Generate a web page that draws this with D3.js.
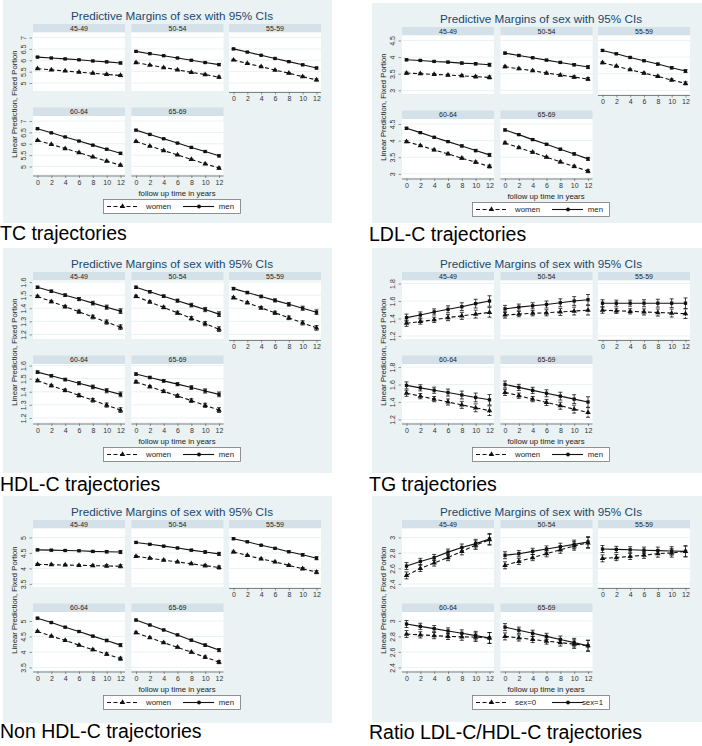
<!DOCTYPE html>
<html><head><meta charset="utf-8">
<script src="https://cdn.jsdelivr.net/npm/d3@7"></script>
<style>
body{margin:0;background:#fff;}
svg{display:block;font-family:"Liberation Sans",Arial,Helvetica,sans-serif;}
</style>
</head><body>
<svg id="chart" width="702" height="746"></svg>
<script>
// ---------- DATA ----------
const ageGroups = ["45-49", "50-54", "55-59", "60-64", "65-69"];
const years = [0, 2, 4, 6, 8, 10, 12];
const chartTitle = "Predictive Margins of sex with 95% CIs";
const xAxisTitle = "follow up time in years";
const yAxisTitle = "Linear Prediction, Fixed Portion";
const sexLabels = ["women", "men"];
const sexCodeLabels = ["sex=0", "sex=1"];
const captions = ["TC trajectories", "LDL-C trajectories", "HDL-C trajectories",
                  "TG trajectories", "Non HDL-C trajectories", "Ratio LDL-C/HDL-C trajectories"];

// TC
const tcTicks = [5, 5.5, 6, 6.5, 7];
const tcRange = [4.65, 7.22];
const tcWomen = [
  [5.63, 5.58, 5.53, 5.48, 5.43, 5.38, 5.33],
  [5.90, 5.79, 5.68, 5.58, 5.47, 5.37, 5.26],
  [6.01, 5.86, 5.72, 5.57, 5.43, 5.28, 5.14],
  [6.15, 5.97, 5.79, 5.61, 5.42, 5.24, 5.06],
  [6.10, 5.90, 5.70, 5.51, 5.31, 5.12, 4.93]];
const tcMen = [
  [6.14, 6.10, 6.06, 6.02, 5.97, 5.93, 5.88],
  [6.39, 6.29, 6.20, 6.10, 6.00, 5.90, 5.81],
  [6.50, 6.36, 6.22, 6.08, 5.94, 5.80, 5.66],
  [6.66, 6.48, 6.30, 6.12, 5.94, 5.76, 5.58],
  [6.60, 6.41, 6.22, 6.03, 5.84, 5.66, 5.47]];
const tcCI = [0.03, 0.025, 0.025, 0.025, 0.03, 0.035, 0.045];

// LDL-C
const ldlTicks = [3, 3.5, 4, 4.5];
const ldlRange = [2.89, 4.65];
const ldlWomen = [
  [3.52, 3.50, 3.48, 3.46, 3.44, 3.41, 3.39],
  [3.71, 3.65, 3.59, 3.52, 3.46, 3.40, 3.34],
  [3.83, 3.73, 3.62, 3.52, 3.42, 3.31, 3.21],
  [3.97, 3.85, 3.72, 3.60, 3.47, 3.35, 3.22],
  [3.93, 3.79, 3.65, 3.50, 3.36, 3.22, 3.08]];
const ldlMen = [
  [3.92, 3.90, 3.87, 3.85, 3.82, 3.80, 3.77],
  [4.12, 4.05, 3.98, 3.91, 3.84, 3.77, 3.70],
  [4.20, 4.10, 3.99, 3.89, 3.79, 3.68, 3.58],
  [4.37, 4.24, 4.10, 3.97, 3.84, 3.70, 3.57],
  [4.32, 4.18, 4.03, 3.89, 3.74, 3.60, 3.45]];
const ldlCI = [0.03, 0.025, 0.025, 0.025, 0.03, 0.035, 0.045];

// HDL-C
const hdlTicks = [1.2, 1.3, 1.4, 1.5, 1.6];
const hdlRange = [1.165, 1.612];
const hdlWomen = [
  [1.490, 1.451, 1.412, 1.373, 1.333, 1.294, 1.255],
  [1.490, 1.448, 1.406, 1.365, 1.323, 1.282, 1.240],
  [1.480, 1.442, 1.403, 1.365, 1.327, 1.288, 1.250],
  [1.485, 1.447, 1.410, 1.372, 1.335, 1.298, 1.260],
  [1.475, 1.439, 1.403, 1.368, 1.332, 1.296, 1.260]];
const hdlMen = [
  [1.560, 1.530, 1.500, 1.470, 1.439, 1.408, 1.378],
  [1.560, 1.526, 1.492, 1.458, 1.424, 1.390, 1.355],
  [1.550, 1.520, 1.490, 1.460, 1.430, 1.400, 1.370],
  [1.550, 1.522, 1.493, 1.465, 1.437, 1.408, 1.380],
  [1.535, 1.509, 1.483, 1.458, 1.432, 1.406, 1.380]];
const hdlCI = [0.009, 0.009, 0.01, 0.012, 0.014, 0.016, 0.018];

// TG
const tgTicks = [1.2, 1.4, 1.6, 1.8];
const tgRange = [1.165, 1.835];
const tgWomen = [
  [1.345, 1.365, 1.385, 1.410, 1.430, 1.450, 1.470],
  [1.440, 1.450, 1.460, 1.465, 1.475, 1.485, 1.495],
  [1.495, 1.488, 1.482, 1.475, 1.468, 1.462, 1.455],
  [1.500, 1.467, 1.433, 1.400, 1.367, 1.333, 1.300],
  [1.510, 1.472, 1.433, 1.395, 1.357, 1.318, 1.280]];
const tgMen = [
  [1.410, 1.440, 1.475, 1.505, 1.535, 1.570, 1.600],
  [1.510, 1.530, 1.545, 1.560, 1.580, 1.600, 1.615],
  [1.575, 1.575, 1.575, 1.575, 1.575, 1.575, 1.575],
  [1.590, 1.562, 1.535, 1.508, 1.480, 1.452, 1.425],
  [1.600, 1.567, 1.533, 1.500, 1.467, 1.433, 1.400]];
const tgCIWomen = [0.035, 0.03, 0.03, 0.035, 0.04, 0.045, 0.055];
const tgCIMen = [0.04, 0.035, 0.035, 0.04, 0.045, 0.05, 0.06];

// Non HDL-C
const nonTicks = [3.5, 4, 4.5, 5];
const nonRange = [3.4, 5.29];
const nonWomen = [
  [4.13, 4.12, 4.11, 4.10, 4.09, 4.08, 4.07],
  [4.39, 4.33, 4.27, 4.21, 4.15, 4.09, 4.03],
  [4.53, 4.42, 4.31, 4.21, 4.10, 3.99, 3.88],
  [4.66, 4.51, 4.37, 4.22, 4.07, 3.93, 3.78],
  [4.62, 4.46, 4.30, 4.15, 3.99, 3.83, 3.67]];
const nonMen = [
  [4.60, 4.59, 4.58, 4.57, 4.55, 4.54, 4.53],
  [4.84, 4.78, 4.72, 4.66, 4.59, 4.53, 4.47],
  [4.96, 4.86, 4.75, 4.65, 4.54, 4.44, 4.33],
  [5.09, 4.95, 4.80, 4.66, 4.51, 4.37, 4.22],
  [5.03, 4.87, 4.71, 4.55, 4.38, 4.22, 4.06]];
const nonCI = [0.03, 0.025, 0.025, 0.025, 0.03, 0.04, 0.05];

// Ratio LDL-C/HDL-C
const ratioTicks = [2.4, 2.6, 2.8, 3];
const ratioRange = [2.36, 3.115];
const ratioSex0 = [
  [2.51, 2.60, 2.67, 2.74, 2.82, 2.90, 2.97],
  [2.64, 2.69, 2.74, 2.79, 2.84, 2.89, 2.93],
  [2.73, 2.74, 2.755, 2.77, 2.79, 2.80, 2.82],
  [2.83, 2.82, 2.81, 2.80, 2.795, 2.79, 2.78],
  [2.80, 2.78, 2.76, 2.74, 2.72, 2.70, 2.68]];
const ratioSex1 = [
  [2.63, 2.69, 2.74, 2.81, 2.87, 2.92, 2.98],
  [2.77, 2.79, 2.82, 2.85, 2.88, 2.91, 2.94],
  [2.85, 2.845, 2.84, 2.835, 2.83, 2.825, 2.82],
  [2.96, 2.93, 2.90, 2.87, 2.84, 2.81, 2.78],
  [2.92, 2.88, 2.84, 2.80, 2.76, 2.72, 2.68]];
const ratioCI = [0.045, 0.04, 0.04, 0.04, 0.045, 0.055, 0.07];

// ---------- CHART DEFINITIONS ----------
const charts = [
  {caption: captions[0], ticks: tcTicks, range: tcRange, s0: tcWomen, s1: tcMen, ci0: tcCI, ci1: tcCI, leg: sexLabels},
  {caption: captions[1], ticks: ldlTicks, range: ldlRange, s0: ldlWomen, s1: ldlMen, ci0: ldlCI, ci1: ldlCI, leg: sexLabels},
  {caption: captions[2], ticks: hdlTicks, range: hdlRange, s0: hdlWomen, s1: hdlMen, ci0: hdlCI, ci1: hdlCI, leg: sexLabels},
  {caption: captions[3], ticks: tgTicks, range: tgRange, s0: tgWomen, s1: tgMen, ci0: tgCIWomen, ci1: tgCIMen, leg: sexLabels},
  {caption: captions[4], ticks: nonTicks, range: nonRange, s0: nonWomen, s1: nonMen, ci0: nonCI, ci1: nonCI, leg: sexLabels},
  {caption: captions[5], ticks: ratioTicks, range: ratioRange, s0: ratioSex0, s1: ratioSex1, ci0: ratioCI, ci1: ratioCI, leg: sexCodeLabels}
];

// ---------- LAYOUT ----------
const boxes = [
  {x: 3, y: 0, w: 329, h: 223, cx: 0, cy: 240},
  {x: 372, y: 3, w: 330, h: 220, cx: 369, cy: 241},
  {x: 3, y: 248, w: 329, h: 225, cx: 0, cy: 491},
  {x: 372, y: 248, w: 330, h: 225, cx: 369, cy: 491},
  {x: 3, y: 496, w: 329, h: 227, cx: 0, cy: 738},
  {x: 372, y: 496, w: 330, h: 226, cx: 369, cy: 739}
];
const colLeft = [30, 128.5, 226];
const plotW = 92;
const plotH = 58.5;
const rowTop = [32.5, 116];
const stripH = 8.5;
const BG = "#EAF2F3", STRIP = "#D5E1E8", NAVY = "#1A476F", INK = "#222";

const svg = d3.select("#chart");

function drawPanel(chart, box) {
  const g = svg.append("g").attr("transform", `translate(${box.x},${box.y})`);
  g.append("rect").attr("width", box.w).attr("height", box.h).attr("fill", BG);
  g.append("text").attr("x", 169).attr("y", 19.5).attr("text-anchor", "middle")
    .attr("font-size", 11.7).attr("fill", NAVY).text(chartTitle);

  ageGroups.forEach((ag, i) => {
    const row = i < 3 ? 0 : 1, col = i % 3;
    const px = colLeft[col], py = rowTop[row];
    // strip
    g.append("rect").attr("x", px).attr("y", py - stripH).attr("width", plotW).attr("height", stripH).attr("fill", STRIP);
    g.append("text").attr("x", px + plotW / 2).attr("y", py - 2).attr("text-anchor", "middle")
      .attr("font-size", 7).attr("fill", INK).text(ag);
    // plot region
    g.append("rect").attr("x", px).attr("y", py).attr("width", plotW).attr("height", plotH).attr("fill", "#fff");

    const x = d3.scaleLinear().domain([0, 12]).range([px + 4.5, px + plotW - 4.5]);
    const y = d3.scaleLinear().domain(chart.range).range([py + plotH, py]);

    // grid
    g.append("g").selectAll("line").data(chart.ticks).join("line")
      .attr("x1", px).attr("x2", px + plotW)
      .attr("y1", d => y(d)).attr("y2", d => y(d))
      .attr("stroke", BG).attr("stroke-width", 1);

    // y axis
    if (col === 0) {
      const ya = g.append("g").attr("transform", `translate(${px - 1},0)`)
        .call(d3.axisLeft(y).tickValues(chart.ticks).tickSize(2.5).tickSizeOuter(0).tickFormat(d3.format("")));
      ya.select(".domain").remove();
      ya.selectAll(".tick line").attr("stroke", "#555").attr("stroke-width", 0.6);
      ya.selectAll(".tick text")
        .attr("x", null).attr("dy", null)
        .attr("transform", "translate(-6.5,0) rotate(-90)")
        .attr("text-anchor", "middle").attr("font-size", 7)
        .attr("font-family", "Liberation Sans, Arial, sans-serif").attr("fill", "#333");
    }
    // x axis
    if (row === 1 || col === 2) {
      const xa = g.append("g").attr("transform", `translate(0,${py + plotH + 1})`)
        .call(d3.axisBottom(x).tickValues(years).tickSize(2.5).tickSizeOuter(0).tickPadding(2));
      xa.select(".domain").attr("stroke", "#555").attr("stroke-width", 0.7)
        .attr("d", `M${px},0.5H${px + plotW}`);
      xa.selectAll(".tick line").attr("stroke", "#555").attr("stroke-width", 0.6);
      xa.selectAll(".tick text").attr("font-size", 7)
        .attr("font-family", "Liberation Sans, Arial, sans-serif").attr("fill", "#333");
    }

    const series = [
      {vals: chart.s0[i], ci: chart.ci0, dash: "4,2.5", marker: "tri"},
      {vals: chart.s1[i], ci: chart.ci1, dash: null, marker: "dot"}
    ];
    series.forEach(s => {
      const pts = years.map((yr, k) => ({x: yr, v: s.vals[k], c: s.ci[k]}));
      // error bars
      const eb = g.append("g").attr("stroke", "#111").attr("stroke-width", 0.8);
      pts.forEach(p => {
        eb.append("line").attr("x1", x(p.x)).attr("x2", x(p.x))
          .attr("y1", y(p.v - p.c)).attr("y2", y(p.v + p.c))
          .attr("stroke-dasharray", s.dash ? "1.5,1" : null);
        [p.v - p.c, p.v + p.c].forEach(e => eb.append("line")
          .attr("x1", x(p.x) - 2).attr("x2", x(p.x) + 2).attr("y1", y(e)).attr("y2", y(e)));
      });
      // line
      g.append("path").datum(pts)
        .attr("d", d3.line().x(p => x(p.x)).y(p => y(p.v)))
        .attr("fill", "none").attr("stroke", "#111").attr("stroke-width", 1.1)
        .attr("stroke-dasharray", s.dash);
      // markers
      const sym = s.marker === "tri" ? d3.symbolTriangle : d3.symbolSquare;
      const sz = s.marker === "tri" ? 13 : 11;
      g.append("g").selectAll("path").data(pts).join("path")
        .attr("transform", p => `translate(${x(p.x)},${y(p.v)})`)
        .attr("d", d3.symbol(sym, sz)).attr("fill", "#111");
    });
  });

  // axis titles
  g.append("text").attr("x", 174).attr("y", 196).attr("text-anchor", "middle")
    .attr("font-size", 7.8).attr("fill", INK).text(xAxisTitle);
  g.append("text").attr("transform", "translate(13.5,104) rotate(-90)").attr("text-anchor", "middle")
    .attr("font-size", 7.7).attr("fill", INK).text(yAxisTitle);

  // legend
  const lg = g.append("g");
  lg.append("rect").attr("x", 100.5).attr("y", 199.5).attr("width", 137).attr("height", 14)
    .attr("fill", "#fff").attr("stroke", "#777").attr("stroke-width", 0.8);
  const ly = 206.5;
  lg.append("line").attr("x1", 104).attr("x2", 135).attr("y1", ly).attr("y2", ly)
    .attr("stroke", "#111").attr("stroke-width", 1.1).attr("stroke-dasharray", "4,2.5");
  lg.append("path").attr("transform", `translate(119.5,${ly})`).attr("d", d3.symbol(d3.symbolTriangle, 13)).attr("fill", "#111");
  lg.append("text").attr("x", 143).attr("y", ly + 2.8).attr("font-size", 7.8).attr("fill", INK).text(chart.leg[0]);
  lg.append("line").attr("x1", 180).attr("x2", 211).attr("y1", ly).attr("y2", ly)
    .attr("stroke", "#111").attr("stroke-width", 1.1);
  lg.append("circle").attr("cx", 196).attr("cy", ly).attr("r", 1.9).attr("fill", "#111");
  lg.append("text").attr("x", 231).attr("y", ly + 2.8).attr("text-anchor", "end").attr("font-size", 7.8).attr("fill", INK).text(chart.leg[1]);

  // caption
  svg.append("text").attr("x", box.cx).attr("y", box.cy).attr("font-size", 19.5).attr("fill", "#000").text(chart.caption);
}

charts.forEach((c, i) => drawPanel(c, boxes[i]));
</script>
</body></html>
